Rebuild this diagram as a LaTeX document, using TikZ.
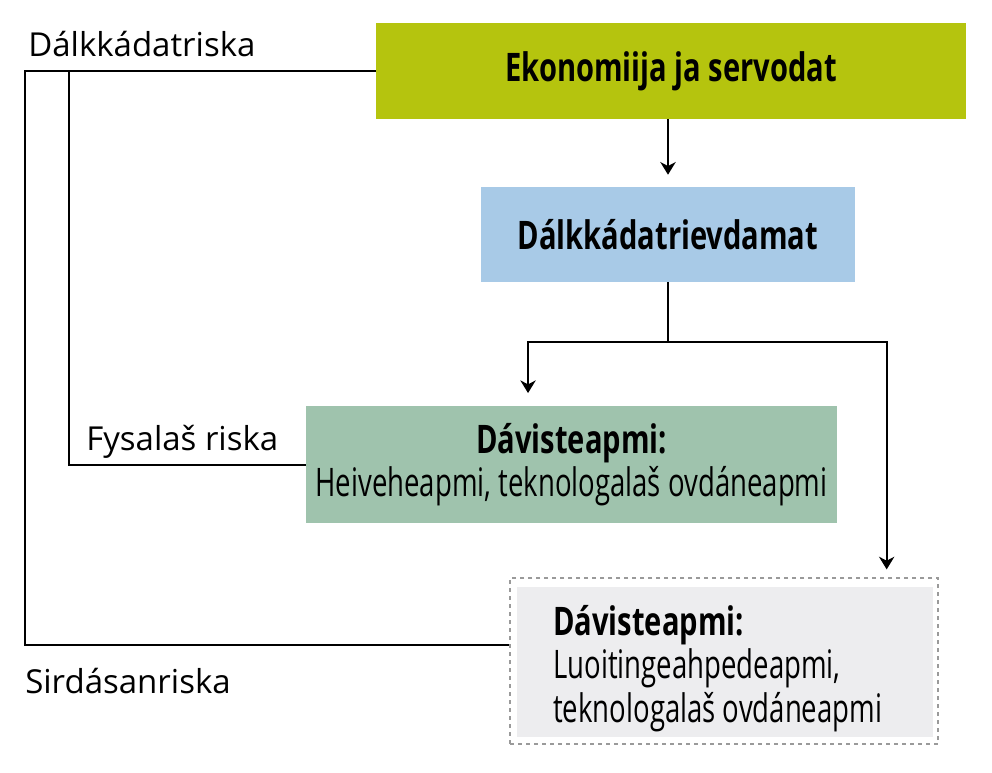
\documentclass[tikz,border=0pt]{standalone}
\usepackage{fontspec}
\setsansfont{Open Sans}
\newfontfamily\smalfont{Open Sans}[FakeStretch=0.70, BoldFeatures={FakeStretch=0.74}]
\usepackage{tikz}
\usetikzlibrary{arrows.meta, positioning, calc}

\definecolor{oljo}{HTML}{B5C40E}
\definecolor{albmi}{HTML}{A8CAE7}
\definecolor{suoidni}{HTML}{9FC3AD}
\definecolor{ruoivi}{HTML}{EDEDEF}
\definecolor{ravda}{HTML}{9A9A9A}

\begin{document}
\begin{tikzpicture}[
  x=0.75pt, y=-0.75pt,
  font=\sffamily,
  box/.style={
    fill=#1, inner sep=0pt, align=center,
    font=\smalfont\fontsize{29.5}{32.5}\selectfont
  },
  frame/.style={draw=ravda, dashed, line width=0.9pt, inner sep=0pt},
  riska/.style={anchor=base west, inner sep=0pt, font=\sffamily\fontsize{24.75}{28}\selectfont},
  line/.style={line width=1.5pt, black},
  arrow/.style={line width=1.5pt, -{Stealth[length=9.5pt, width=11.5pt, inset=3pt]}}
]
  \useasboundingbox (0,0) rectangle (992,772);

  \node[box=oljo, minimum width=442.5pt, minimum height=72pt] (eco) at (671,71)
    {\bfseries Ekonomiija ja servodat};
  \node[box=albmi, minimum width=280.5pt, minimum height=71.25pt] (klima) at (668,234.5)
    {\bfseries Dálkkádatrievdamat};
  \node[box=suoidni, minimum width=398.25pt, minimum height=87.75pt] (tilp) at (571.5,464.5)
    {{\bfseries Dávisteapmi:}\\Heiveheapmi, teknologalaš ovdáneapmi};
  \node[frame, minimum width=321pt, minimum height=124.5pt] (ramma) at (724,661) {};
  \fill[ruoivi] ([shift={(8,10)}]ramma.north west) rectangle ([shift={(-6,-8)}]ramma.south east);
  \node[box=ruoivi, anchor=base west, align=flush left] (luoit) at (553,722)
    {{\bfseries Dávisteapmi:}\\Luoitingeahpedeapmi,\\teknologalaš ovdáneapmi};

  % arrows
  \coordinate (juohke) at (668,342);
  \draw[arrow, shorten >=9pt] (eco.south -| klima.north) -- (klima.north);
  \draw[line] (klima.south) -- (juohke);
  \draw[arrow, shorten >=9.5pt] (juohke) -| ([xshift=-32.6pt]tilp.north);
  \draw[arrow, shorten >=6pt] (juohke) -| ([xshift=122pt]ramma.north);

  % riskat
  \coordinate (gaska) at (69,71);
  \draw[line] (eco.west) -- (25,71) |- ([yshift=12pt]ramma.west);
  \draw[line] (gaska) |- (tilp.west);

  \node[riska] (r1) at (28,56) {Dálkkádatriska};
  \node[riska] (r2) at (86,450) {Fysalaš riska};
  \node[riska] (r3) at (25,693) {Sirdásanriska};
\end{tikzpicture}
\end{document}
